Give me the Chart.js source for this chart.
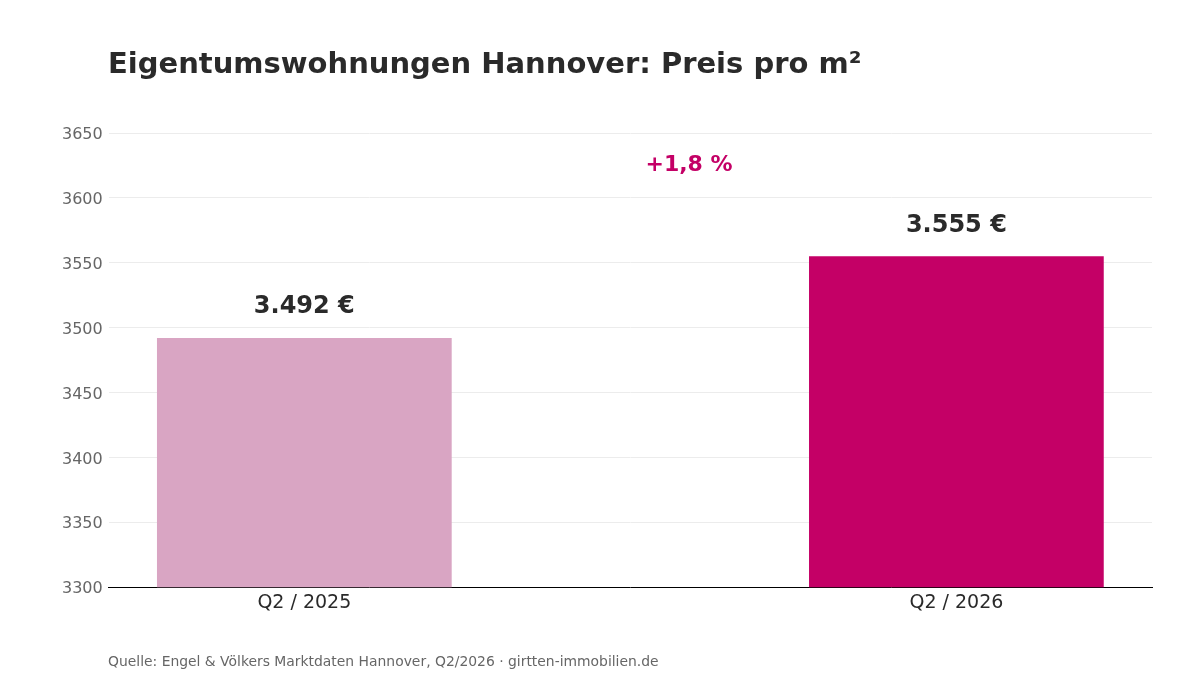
<!DOCTYPE html>
<html lang="de">
<head>
    <meta charset="UTF-8">
    <title>Eigentumswohnungen Hannover: Preis pro m²</title>
    <script src="https://cdn.jsdelivr.net/npm/chart.js"></script>
    <style>
        body {
            margin: 0;
            padding: 0;
            background: #fff;
            font-family: "DejaVu Sans", sans-serif;
        }
        .wrap {
            position: relative;
            width: 1200px;
            height: 675px;
        }
        .title {
            position: absolute;
            left: 108px;
            top: 44px;
            font-size: 29px;
            font-weight: bold;
            color: #2a2a2a;
            line-height: 38px;
            margin: 0;
        }
        .source {
            position: absolute;
            left: 108px;
            top: 652px;
            font-size: 13.9px;
            color: #666;
            line-height: 18px;
        }
        canvas {
            position: absolute;
            left: 0;
            top: 0;
        }
    </style>
</head>
<body>
<div class="wrap">
    <canvas id="priceChart" width="1200" height="675"></canvas>
    <h1 class="title">Eigentumswohnungen Hannover: Preis pro m²</h1>
    <div class="source">Quelle: Engel &amp; Völkers Marktdaten Hannover, Q2/2026 · girtten-immobilien.de</div>
</div>
<script>
    // data
    const periods = ['Q2 / 2025', 'Q2 / 2026'];
    const prices = [3492, 3555];
    const barColors = ['#d9a5c3', '#c40066'];
    const yMin = 3300, yMax = 3650, yStep = 50;

    function fmtEuro(v) {
        return String(v).replace(/\B(?=(\d{3})+(?!\d))/g, '.') + ' €';
    }

    const change = (prices[1] / prices[0] - 1) * 100;
    const changeText = (change >= 0 ? '+' : '') + change.toFixed(1).replace('.', ',') + ' %';

    const labelPlugin = {
        id: 'barLabels',
        afterDatasetsDraw(chart) {
            const c = chart.ctx;
            const meta = chart.getDatasetMeta(0);
            c.save();
            c.textAlign = 'center';
            c.textBaseline = 'middle';
            c.font = 'bold 24px "DejaVu Sans"';
            c.fillStyle = '#2a2a2a';
            meta.data.forEach((bar, i) => {
                c.fillText(fmtEuro(prices[i]), bar.x, bar.y - 31);
            });
            // change annotation between the bars
            const xs = chart.scales.x, ys = chart.scales.y;
            c.font = 'bold 22px "DejaVu Sans"';
            c.fillStyle = barColors[1];
            c.fillText(changeText, xs.getPixelForValue(0.59), ys.getPixelForValue(3625));
            c.restore();
        }
    };

    new Chart(document.getElementById('priceChart'), {
        type: 'bar',
        data: {
            datasets: [{
                data: prices.map((p, i) => ({ x: i, y: p })),
                backgroundColor: barColors,
                categoryPercentage: 1,
                barPercentage: 0.452
            }]
        },
        options: {
            responsive: false,
            animation: false,
            layout: { padding: { left: 56, right: 48, top: 133, bottom: 57 } },
            plugins: {
                legend: { display: false },
                tooltip: { enabled: false }
            },
            scales: {
                x: {
                    type: 'linear',
                    offset: false,
                    min: -0.3,
                    max: 1.3,
                    afterBuildTicks: axis => { axis.ticks = periods.map((p, i) => ({ value: i })); },
                    ticks: {
                        callback: v => periods[v],
                        color: '#2a2a2a',
                        font: { family: 'DejaVu Sans', size: 19 },
                        padding: 4,
                        maxRotation: 0
                    },
                    grid: { display: false, drawTicks: false },
                    border: { display: true, color: '#000', width: 1 }
                },
                y: {
                    min: yMin,
                    max: yMax,
                    ticks: {
                        stepSize: yStep,
                        callback: v => String(v),
                        color: '#666',
                        font: { family: 'DejaVu Sans', size: 16 },
                        padding: 6,
                        labelOffset: 2
                    },
                    grid: { color: '#ececec', drawTicks: false },
                    border: { display: false }
                }
            }
        },
        plugins: [labelPlugin]
    });
</script>
</body>
</html>
